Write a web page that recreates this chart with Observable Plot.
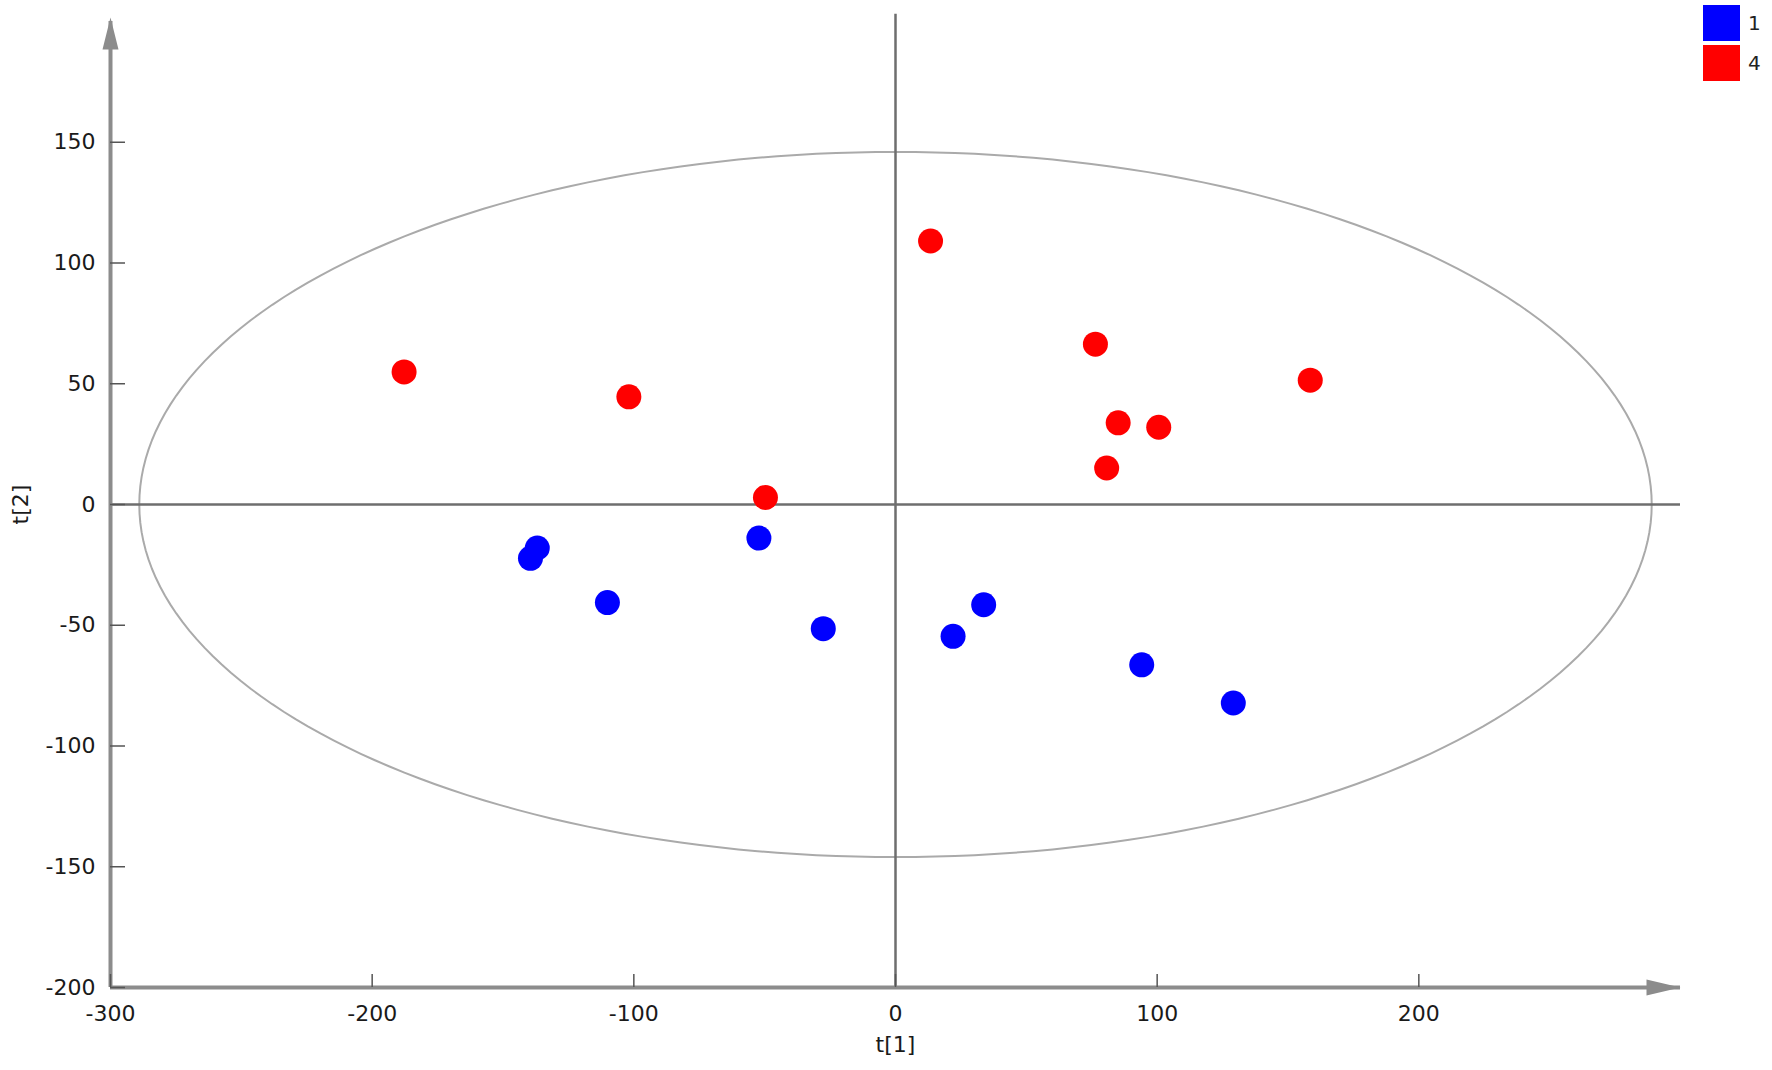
<!DOCTYPE html>
<html>
<head>
<meta charset="utf-8">
<script src="https://cdn.jsdelivr.net/npm/d3@7"></script>
<script src="https://cdn.jsdelivr.net/npm/@observablehq/plot@0.6"></script>
<style>
  html, body { margin: 0; padding: 0; background: #fff; }
  #wrap { position: relative; width: 1772px; height: 1070px; }
  #legend { position: absolute; left: 1703px; top: 3px; font-family: "DejaVu Sans", sans-serif; font-size: 20px; color: #222; }
  .item { display: flex; align-items: center; height: 40px; }
  .sw { width: 37px; height: 36px; margin-right: 8px; }
</style>
</head>
<body>
<div id="wrap">
  <div id="chart"></div>
  <div id="legend"></div>
</div>
<script>
// Groups
const groups = ["1", "4"];
const groupColors = ["#0000FF", "#FF0000"];

// Group "1" (blue) scores
const blueT1 = [-139.5, -136.9, -110.1, -52.2, -27.6, 22.0, 33.7, 94.1, 129.1];
const blueT2 = [-22.3, -18.0, -40.6, -13.9, -51.4, -54.6, -41.5, -66.4, -82.2];

// Group "4" (red) scores
const redT1 = [-187.8, -101.9, -49.7, 13.4, 76.4, 85.1, 100.6, 80.7, 158.5];
const redT2 = [54.9, 44.6, 2.9, 109.1, 66.4, 33.8, 32.0, 15.1, 51.5];

// Axis ticks
const xTicks = [-300, -200, -100, 0, 100, 200];
const yTicks = [-200, -150, -100, -50, 0, 50, 100, 150];

// Hotelling T2 ellipse semi-axes
const ellipseA = 289;
const ellipseB = 146;

const points = [
  ...blueT1.map((v, i) => ({t1: v, t2: blueT2[i], g: "1"})),
  ...redT1.map((v, i) => ({t1: v, t2: redT2[i], g: "4"}))
];

const ellipse = d3.range(0, 241).map(i => {
  const a = (i / 240) * 2 * Math.PI;
  return {t1: ellipseA * Math.cos(a), t2: ellipseB * Math.sin(a)};
});

const arrowUp = {draw(ctx) { ctx.moveTo(0, -4); ctx.lineTo(-8, 28); ctx.lineTo(8, 28); ctx.closePath(); }};
const arrowRight = {draw(ctx) { ctx.moveTo(0, 0); ctx.lineTo(-34, -8); ctx.lineTo(-34, 8); ctx.closePath(); }};

const W = 1772, H = 1070, mL = 110, mR = 92, mT = 21, mB = 83;
const pxX = (W - mL - mR) / 600;
const pxY = (H - mT - mB) / 400;

const chart = Plot.plot({
  width: W,
  height: H,
  marginLeft: mL,
  marginRight: mR,
  marginTop: mT,
  marginBottom: mB,
  style: {fontFamily: "DejaVu Sans, sans-serif", fontSize: "22px", color: "#1a1a1a", background: "white", overflow: "visible"},
  x: {domain: [-300, 300]},
  y: {domain: [-200, 200]},
  color: {domain: groups, range: groupColors},
  marks: [
    Plot.line(ellipse, {x: "t1", y: "t2", stroke: "#aaaaaa", strokeWidth: 2, curve: "linear-closed"}),
    Plot.ruleX([0], {y1: -200, y2: 203, stroke: "#6e6e6e", strokeWidth: 2.5}),
    Plot.ruleY([0], {stroke: "#6e6e6e", strokeWidth: 2.5}),
    Plot.ruleX([-300], {stroke: "#8c8c8c", strokeWidth: 4}),
    Plot.ruleY([-200], {stroke: "#8c8c8c", strokeWidth: 4}),
    Plot.ruleY(yTicks, {x1: -300, x2: -300 + 15 / pxX, stroke: "#555", strokeWidth: 1.5}),
    Plot.ruleX(xTicks, {y1: -200, y2: -200 + 13 / pxY, stroke: "#555", strokeWidth: 1.5}),
    Plot.dot([{t1: -300, t2: 200}], {x: "t1", y: "t2", symbol: arrowUp, fill: "#8c8c8c", stroke: "none"}),
    Plot.dot([{t1: 300, t2: -200}], {x: "t1", y: "t2", symbol: arrowRight, fill: "#8c8c8c", stroke: "none"}),
    Plot.axisX({ticks: xTicks, tickSize: 0, tickPadding: 18, tickFormat: d => String(d), label: null}),
    Plot.axisY({ticks: yTicks, tickSize: 0, tickPadding: 15, tickFormat: d => String(d), label: null}),
    Plot.text(["t[1]"], {frameAnchor: "bottom", dy: 64, text: d => d, fill: "#1a1a1a"}),
    Plot.text(["t[2]"], {frameAnchor: "left", dx: -90, rotate: -90, textAnchor: "middle", text: d => d, fill: "#1a1a1a"}),
    Plot.dot(points, {x: "t1", y: "t2", fill: "g", r: 12.5, stroke: "none"})
  ]
});
document.getElementById("chart").appendChild(chart);

const legend = document.getElementById("legend");
groups.forEach((g, i) => {
  const item = document.createElement("div");
  item.className = "item";
  const sw = document.createElement("div");
  sw.className = "sw";
  sw.style.background = groupColors[i];
  const lab = document.createElement("span");
  lab.textContent = g;
  item.appendChild(sw);
  item.appendChild(lab);
  legend.appendChild(item);
});
</script>
</body>
</html>
